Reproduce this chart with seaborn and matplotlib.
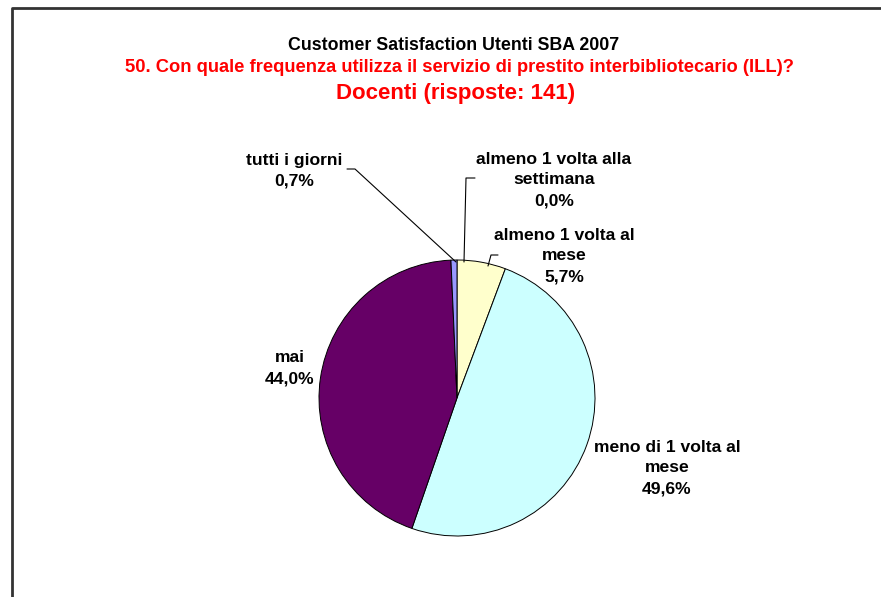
import matplotlib
matplotlib.use("Agg")
import matplotlib.pyplot as plt
import seaborn as sns

# data (clockwise from 12 o'clock)
categories = ["almeno 1 volta alla\nsettimana", "almeno 1 volta al\nmese",
              "meno di 1 volta al\nmese", "mai", "tutti i giorni"]
values = [0.0, 5.7, 49.6, 44.0, 0.7]
colors = ["#CCFFCC", "#FFFFCC", "#CCFFFF", "#660066", "#9999FF"]

sns.set_theme(style="white")
plt.rcParams['font.family'] = ['Liberation Sans', 'DejaVu Sans']

W, H = 881, 597
fig = plt.figure(figsize=(W / 100, H / 100), dpi=100)
ax = fig.add_axes([0, 0, 1, 1])

def py(y):
    return H - y

cx, cy, r = 457, py(398), 138
wedges, _ = ax.pie(values, colors=colors, startangle=90, counterclock=False,
                   center=(cx, cy), radius=r, frame=True,
                   wedgeprops=dict(edgecolor="black", linewidth=0.7))
ax.set_xlim(0, W)
ax.set_ylim(0, H)
ax.set_aspect('equal')
ax.axis('off')

# chart frame
ax.plot([12, 12, W + 5], [-5, py(8), py(8)], color="#333333", lw=2, clip_on=False)

# titles
ax.text(454, py(45), "Customer Satisfaction Utenti SBA 2007", ha='center', va='center',
        fontsize=12.8, fontweight='bold', color='black')
ax.text(459, py(68), "50. Con quale frequenza utilizza il servizio di prestito interbibliotecario (ILL)?",
        ha='center', va='center', fontsize=13.2, fontweight='bold', color='#FF0000')
ax.text(456, py(93), "Docenti (risposte: 141)", ha='center', va='center',
        fontsize=16, fontweight='bold', color='#FF0000')

# labels
lab_pos = [(554, 180), (564, 256), (667, 468), (290, 368), (294, 171)]
for cat, val, (lx, ly) in zip(categories, values, lab_pos):
    txt = f"{cat}\n{val:.1f}%".replace(".", ",")
    ax.text(lx, py(ly), txt, ha='center', va='center', fontsize=12.6,
            fontweight='bold', color='black', linespacing=1.5)

# leader lines
ax.plot([347, 355, 456], [py(169), py(169), py(262)], color='black', lw=0.8)
ax.plot([475, 466, 464], [py(178), py(178), py(262)], color='black', lw=0.8)
ax.plot([498, 491, 488], [py(255), py(255), py(266)], color='black', lw=0.8)

fig.savefig("out.png", dpi=100, facecolor='white')
